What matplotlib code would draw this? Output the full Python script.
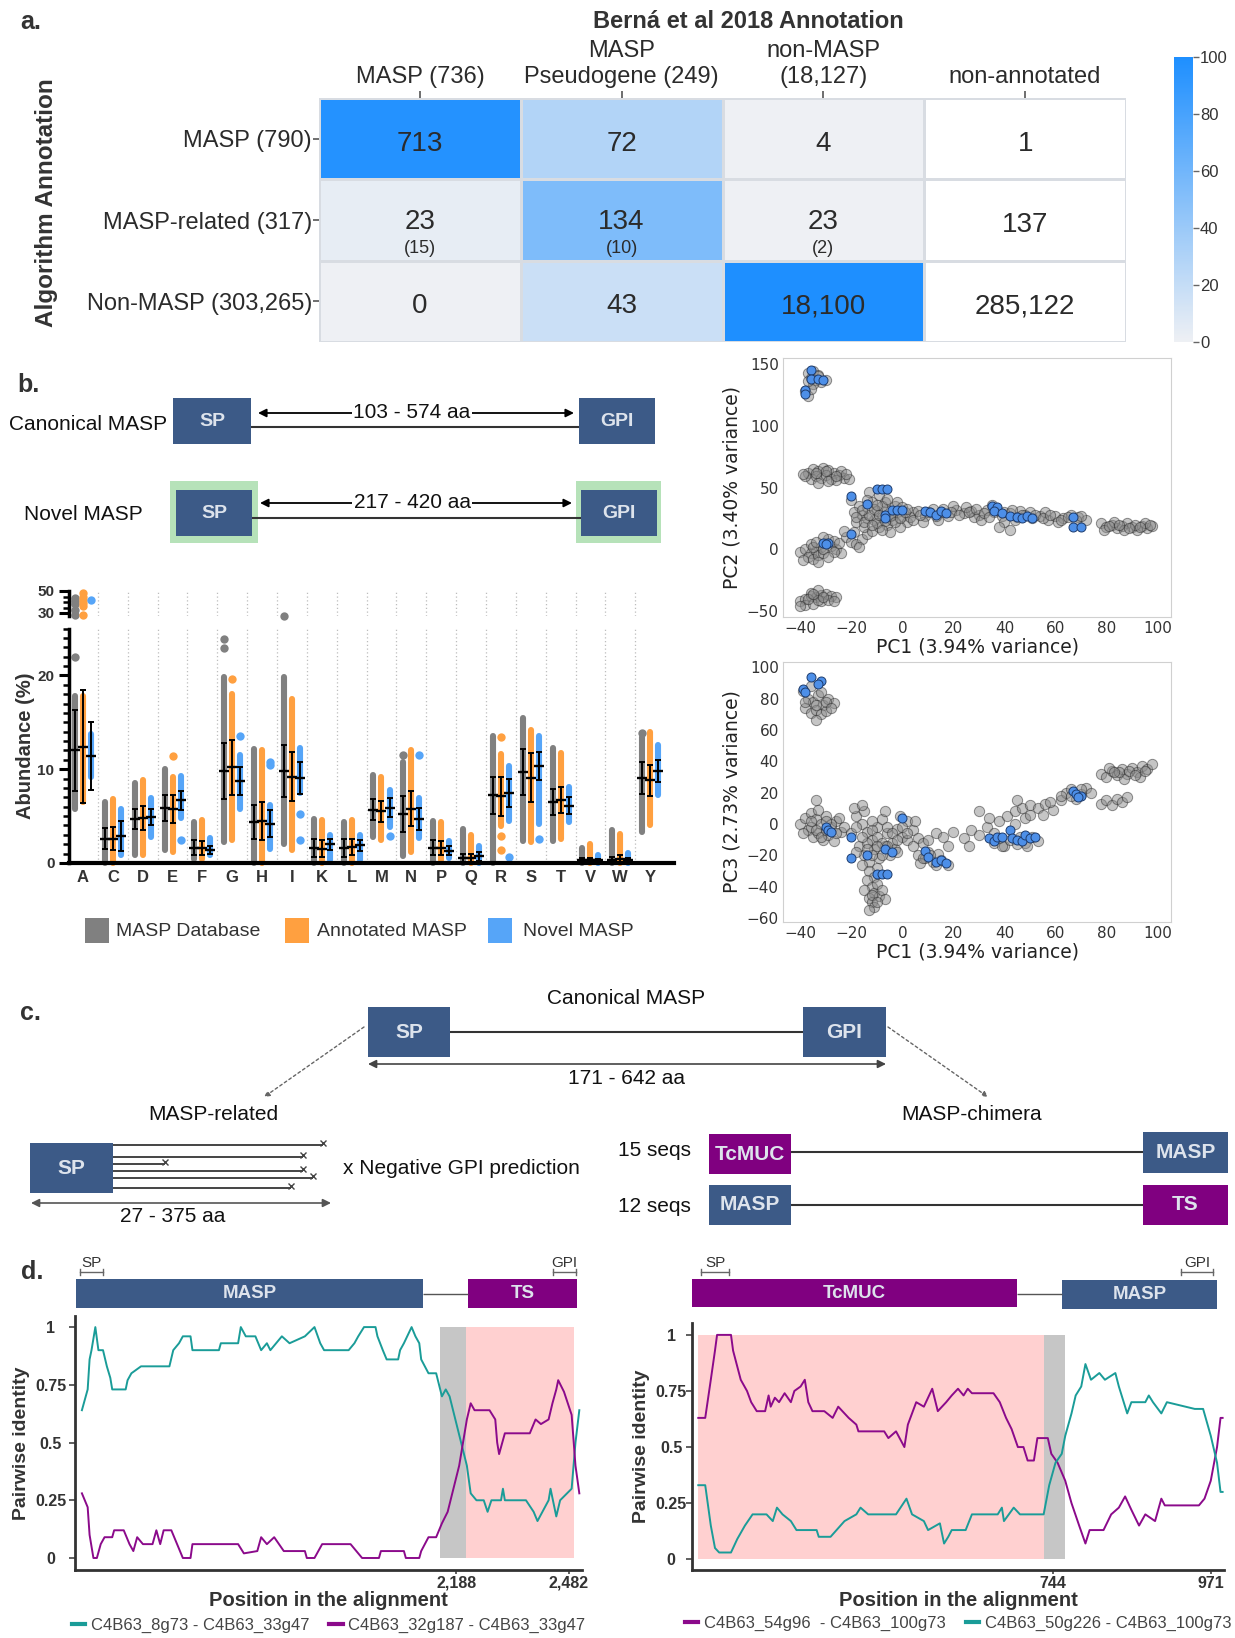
import numpy as np
import matplotlib
matplotlib.use('Agg')
import matplotlib.pyplot as plt
from matplotlib.colors import LinearSegmentedColormap
from matplotlib.patches import Rectangle
from matplotlib.lines import Line2D

plt.rcParams['font.family'] = ['Liberation Sans', 'DejaVu Sans']

# ---------------- a. annotation comparison ----------------
row_labels = ['MASP (790)', 'MASP-related (317)', 'Non-MASP (303,265)']
col_labels = ['MASP (736)', 'MASP\nPseudogene (249)', 'non-MASP\n(18,127)', 'non-annotated']
col_totals = [736, 249, 18127, 0]
counts = np.array([[713, 72, 4, 1],
                   [23, 134, 23, 137],
                   [0, 43, 18100, 285122]])
sub_counts = [[None, None, None, None],
              [15, 10, 2, None],
              [None, None, None, None]]

# ---------------- b. amino acid composition ----------------
residues = ['A', 'C', 'D', 'E', 'F', 'G', 'H', 'I', 'K', 'L',
            'M', 'N', 'P', 'Q', 'R', 'S', 'T', 'V', 'W', 'Y']

db_min = [5.8, 0, 0.8, 1.4, 0.4, 2.2, 0, 2.0, 0, 0, 2.8, 0.7, 0, 0, 0, 2.3, 2.3, 0, 0, 3.3]
db_max = [17.8, 6.5, 8.5, 10.0, 4.4, 19.8, 12.2, 19.8, 4.7, 4.4, 9.4, 10.8, 4.5, 3.6, 13.5, 15.5, 12.3, 1.6, 3.5, 13.4]
db_mean = [12.0, 2.6, 4.7, 5.9, 1.6, 9.8, 4.4, 9.8, 1.6, 1.6, 5.7, 5.2, 1.6, 0.5, 7.2, 9.7, 6.5, 0.3, 0.3, 9.1]
db_sd = [4.3, 1.1, 1.1, 1.4, 0.8, 3.0, 1.8, 2.8, 1.0, 1.0, 1.1, 1.9, 0.8, 0.5, 2.0, 2.5, 1.4, 0.2, 0.3, 1.7]
db_out_res = ['A', 'A', 'A', 'A', 'A', 'A', 'G', 'G', 'I', 'N', 'Y']
db_out_val = [22.0, 28.0, 33.0, 38.0, 41.0, 44.0, 22.9, 23.9, 27.5, 11.5, 13.9]

ann_min = [6.5, 0, 0.8, 1.2, 0.4, 2.5, 0, 1.4, 0, 0, 2.4, 1.2, 0.3, 0, 3.9, 2.2, 2.6, 0, 0, 4.0]
ann_max = [17.8, 6.8, 8.8, 9.2, 4.6, 18.0, 12.0, 17.5, 4.6, 4.6, 9.2, 12.1, 4.4, 3.0, 11.6, 14.2, 11.7, 2.0, 3.1, 14.0]
ann_mean = [12.4, 2.6, 4.8, 5.8, 1.6, 10.2, 4.5, 9.2, 1.5, 1.7, 5.5, 5.8, 1.6, 0.5, 7.1, 9.1, 6.7, 0.3, 0.4, 8.8]
ann_sd = [6.0, 1.2, 1.3, 1.5, 0.7, 2.9, 2.0, 2.6, 0.9, 0.9, 1.1, 1.9, 0.7, 0.5, 2.1, 2.6, 1.4, 0.2, 0.5, 1.7]
ann_out_res = ['A', 'A', 'A', 'A', 'A', 'A', 'E', 'G', 'R', 'R', 'R']
ann_out_val = [28.0, 36.0, 39.0, 42.0, 45.0, 48.0, 11.4, 19.6, 13.4, 2.9, 1.4]

nov_min = [9.2, 0.8, 2.8, 4.8, 0.8, 5.8, 1.5, 7.5, 0.3, 0.3, 3.8, 2.7, 0.5, 0, 4.5, 4.2, 4.4, 0, 0, 7.2]
nov_max = [13.8, 5.8, 6.9, 9.3, 2.7, 11.5, 6.2, 12.3, 3.0, 3.0, 7.8, 6.9, 2.3, 1.8, 10.3, 13.5, 8.1, 0.8, 1.1, 12.6]
nov_mean = [11.4, 2.9, 4.9, 6.7, 1.4, 8.7, 4.2, 9.1, 2.0, 1.9, 5.9, 4.7, 1.3, 0.7, 7.5, 10.3, 6.1, 0.3, 0.3, 9.8]
nov_sd = [3.6, 1.6, 0.9, 1.0, 0.4, 1.5, 1.4, 1.7, 0.6, 0.6, 1.0, 1.2, 0.5, 0.5, 1.5, 1.5, 0.9, 0.1, 0.2, 1.2]
nov_out_res = ['A', 'E', 'G', 'H', 'H', 'I', 'I', 'M', 'N', 'R', 'S']
nov_out_val = [42.0, 2.4, 13.5, 10.4, 10.8, 5.2, 2.5, 2.9, 11.5, 0.6, 2.6]

# ---------------- b. PCA ----------------
grey_pc12 = [(-37, 143), (-35, 144), (-33, 141), (-36, 139), (-34, 137), (-32, 135), (-30, 137), (-35, 134),
             (-38, 128), (-37, 124), (-36, 130), (-33, 140), (-37, 136),
             (-37, 62), (-35, 65), (-33, 63), (-31, 66), (-29, 64), (-27, 62), (-25, 60), (-23, 58), (-21, 57),
             (-36, 57), (-34, 59), (-32, 58), (-30, 60), (-28, 57), (-26, 56), (-33, 54), (-29, 55), (-24, 63), (-38, 59),
             (-39, 61), (-34, 62), (-30, 63), (-26, 59), (-22, 61),
             (-40, -2), (-38, 0), (-36, -3), (-34, -1), (-32, 2), (-30, 5), (-28, 3), (-26, 0), (-24, -3), (-37, -6),
             (-35, -8), (-33, -5), (-31, -3), (-29, 8), (-31, 10), (-27, 7), (-39, -9), (-33, -10), (-25, 5), (-36, 4),
             (-35, 2), (-31, 0), (-27, -2), (-29, -6), (-34, 6),
             (-40, -42), (-38, -40), (-36, -38), (-34, -39), (-32, -37), (-30, -36), (-28, -38), (-26, -39), (-38, -45),
             (-35, -44), (-32, -42), (-29, -41), (-36, -35), (-33, -33), (-40, -46), (-37, -40), (-33, -41), (-31, -39),
             (-27, -42), (-35, -36),
             (-22, 10), (-20, 6), (-18, 4), (-16, 8), (-14, 12), (-19, 14), (-23, 15), (-17, 2),
             (-18, 22), (-16, 28), (-14, 34), (-12, 38), (-10, 31), (-8, 26), (-6, 20), (-4, 24), (-2, 30), (0, 27),
             (2, 22), (4, 30), (-15, 18), (-12, 15), (-9, 18), (-6, 32), (-3, 35), (-11, 24), (-7, 38), (-14, 25),
             (-17, 35), (-20, 40), (-13, 46), (-9, 44), (-1, 18), (-5, 14), (3, 26), (-19, 30), (-10, 21), (-4, 28), (-8, 35),
             (-15, 22), (-13, 28), (-11, 33), (-9, 28), (-7, 23), (-5, 27), (-3, 22), (-1, 25), (1, 30), (-16, 32),
             (-12, 20), (-8, 16), (-2, 38), (0, 34), (-18, 26), (-6, 41), (-14, 40), (-10, 36), (2, 33), (4, 24),
             (6, 31), (9, 27), (12, 33), (15, 30), (18, 27), (21, 32), (24, 29), (27, 31), (30, 28), (33, 32), (36, 30),
             (39, 27), (42, 29), (45, 26), (48, 28), (51, 25), (54, 27), (57, 24), (60, 27), (63, 25), (66, 28), (69, 26),
             (72, 24), (8, 22), (14, 24), (20, 35), (28, 26), (35, 36), (40, 22), (42, 16), (38, 18), (50, 30), (56, 30),
             (61, 22), (25, 34), (31, 24), (46, 31), (7, 28), (10, 30), (13, 27), (16, 33), (19, 30), (22, 28), (26, 30),
             (29, 33), (32, 29), (34, 26), (37, 32), (40, 30), (43, 32), (44, 24), (47, 28), (52, 28), (55, 25),
             (58, 28), (62, 24), (65, 26), (68, 24), (70, 27),
             (78, 21), (80, 18), (82, 20), (84, 17), (86, 19), (88, 21), (90, 18), (92, 16), (94, 19), (96, 17), (98, 19),
             (83, 22), (87, 16), (91, 20), (95, 21), (79, 16), (85, 20), (89, 17), (93, 18), (97, 20), (81, 19)]
blue_pc12 = [(-36, 145), (-36, 138), (-33, 138), (-31, 137), (-38, 129), (-38, 126),
             (-20, 43), (-14, 37), (-10, 49), (-8, 49), (-6, 49), (-7, 28), (-7, 25), (-4, 32), (-2, 32), (0, 32),
             (9, 31), (11, 30), (13, 28), (15, 31), (17, 29), (35, 35), (37, 34), (36, 31), (39, 29), (42, 27),
             (45, 26), (47, 25), (49, 27), (51, 25), (67, 26), (67, 18), (70, 18), (-31, 5), (-29, 5), (-30, 4), (-20, 12)]

grey_pc13 = [(-39, 85), (-37, 80), (-35, 78), (-33, 82), (-31, 76), (-29, 80), (-27, 77), (-38, 74), (-36, 71),
             (-34, 73), (-32, 70), (-30, 72), (-34, 66), (-36, 88), (-38, 78), (-34, 76), (-30, 78), (-28, 74), (-32, 84),
             (-40, 0), (-38, 4), (-36, 7), (-34, 3), (-32, 0), (-30, 5), (-28, -2), (-26, 2), (-24, -5), (-37, -4),
             (-35, -8), (-33, -6), (-31, -10), (-29, -7), (-27, -11), (-39, -6), (-33, 9), (-34, 15), (-25, 4), (-23, -2),
             (-36, -2), (-34, -4), (-32, -8), (-30, -4), (-28, 0), (-26, -6), (-30, 2), (-36, 2),
             (-18, 5), (-16, 0), (-14, -5), (-12, -10), (-10, -2), (-8, 3), (-6, -6), (-4, -12), (-2, -3), (0, -8),
             (2, -10), (4, -4), (6, -9), (8, -12), (-17, -14), (-15, -20), (-13, -24), (-11, -16), (-9, -22), (-7, -14),
             (-5, -20), (-3, -16), (-15, 8), (-12, 2), (-7, 8), (-1, 5), (-20, -6), (-18, -18), (-16, -26), (-10, -28),
             (-19, 10), (-16, 12), (2, 2), (5, 2), (-14, -12), (-12, -4), (-10, -8), (-8, -12), (-6, -2), (-4, -6),
             (-2, -10), (0, -2), (-12, -20), (-10, -14), (-8, -20), (-14, -16), (-16, -8), (-18, -2), (-6, -14),
             (-2, -18), (4, -14), (2, -6), (-13, -30), (-11, -34),
             (-14, -36), (-12, -40), (-11, -44), (-13, -47), (-12, -50), (-11, -53), (-13, -55), (-9, -46), (-10, -38),
             (-8, -42), (-7, -48), (-15, -42), (-12, -45), (-10, -50),
             (6, -20), (9, -22), (12, -24), (15, -23), (18, -26), (10, -18), (14, -19), (7, -25), (8, -22), (11, -20),
             (13, -26),
             (10, -10), (13, -6), (16, -8), (20, -5), (24, -9), (27, -4), (30, -7), (33, -2), (36, -6), (38, 2), (41, 5),
             (44, 8), (47, 10), (50, 12), (53, 10), (56, 13), (59, 9), (62, 15), (34, 4), (45, 15), (40, -14), (55, 6),
             (26, -14), (18, -14), (30, 8), (48, 4), (44, 0), (50, 6), (58, 14),
             (36, -12), (39, -14), (42, -10), (45, -13), (48, -12), (51, -8), (53, -11), (46, -8), (49, -14), (38, -9),
             (64, 20), (66, 22), (70, 19), (72, 23), (74, 20), (68, 16), (62, 18), (66, 18), (70, 22),
             (78, 32), (80, 30), (82, 34), (84, 31), (86, 35), (88, 32), (90, 36), (92, 33), (94, 37), (96, 35), (98, 38),
             (81, 36), (87, 29), (93, 30), (85, 33), (89, 34), (95, 34), (91, 31), (83, 33),
             (78, 13), (80, 15), (82, 12), (84, 16), (86, 14), (88, 17)]
blue_pc13 = [(-36, 94), (-32, 91), (-33, 89), (-39, 86), (-38, 84),
             (-30, -2), (-29, -4), (-28, -5), (-20, -8), (-20, -22), (-14, -20), (-7, -16), (-4, -18),
             (-10, -32), (-8, -32), (-6, -32), (0, 4),
             (9, -17), (10, -21), (13, -24), (15, -23), (17, -25),
             (34, -9), (36, -11), (37, -8), (39, -8), (42, -4), (43, -9), (45, -10), (47, -11), (48, -7), (50, -9), (52, -8),
             (67, 21), (68, 19), (70, 18), (69, 17)]

# ---------------- d. sliding-window pairwise identity ----------------
left_pos_a = [1213, 1228, 1233, 1238, 1248, 1256, 1268, 1278, 1287, 1292, 1327, 1332, 1342, 1367, 1441, 1451,
              1466, 1476, 1496, 1501, 1570, 1575, 1620, 1627, 1640, 1665, 1680, 1695, 1704, 1734, 1754, 1794,
              1819, 1834, 1844, 1908, 1923, 1933, 1948, 1978, 1983, 1997, 2007, 2037, 2042, 2052, 2072, 2082,
              2092, 2097, 2116, 2136, 2151, 2161, 2171, 2186, 2201, 2216, 2226, 2241, 2260, 2270, 2280, 2305,
              2310, 2315, 2320, 2370, 2390, 2400, 2429, 2434, 2449, 2459, 2489, 2499, 2509]
left_id_a = [0.64, 0.73, 0.86, 0.90, 1.0, 0.90, 0.90, 0.83, 0.78, 0.73, 0.73, 0.77, 0.80, 0.83, 0.83, 0.90,
             0.93, 0.96, 0.96, 0.90, 0.90, 0.93, 0.93, 1.0, 0.96, 0.96, 0.90, 0.93, 0.90, 0.96, 0.93, 0.96,
             1.0, 0.93, 0.90, 0.90, 0.93, 0.96, 1.0, 1.0, 0.96, 0.90, 0.86, 0.86, 0.90, 0.93, 1.0, 0.96,
             0.93, 0.86, 0.80, 0.80, 0.70, 0.73, 0.70, 0.60, 0.50, 0.40, 0.28, 0.25, 0.25, 0.20, 0.25, 0.25,
             0.30, 0.25, 0.25, 0.25, 0.20, 0.16, 0.25, 0.30, 0.18, 0.25, 0.30, 0.50, 0.64]
left_pos_b = [1213, 1228, 1233, 1243, 1252, 1262, 1272, 1292, 1297, 1322, 1337, 1347, 1357, 1372, 1397, 1407,
              1417, 1426, 1446, 1461, 1476, 1496, 1501, 1620, 1635, 1670, 1680, 1695, 1714, 1739, 1794, 1799,
              1819, 1839, 1913, 1928, 1943, 1987, 1992, 2052, 2057, 2092, 2097, 2116, 2136, 2151, 2166, 2181,
              2196, 2206, 2216, 2226, 2236, 2275, 2290, 2295, 2300, 2315, 2380, 2395, 2409, 2429, 2439, 2449,
              2454, 2469, 2489, 2499, 2509]
left_id_b = [0.28, 0.22, 0.10, 0.0, 0.0, 0.06, 0.09, 0.09, 0.12, 0.12, 0.06, 0.03, 0.09, 0.06, 0.06, 0.12,
             0.06, 0.12, 0.12, 0.06, 0.0, 0.0, 0.06, 0.06, 0.02, 0.03, 0.09, 0.06, 0.09, 0.03, 0.03, 0.0,
             0.0, 0.06, 0.06, 0.03, 0.0, 0.0, 0.03, 0.03, 0.0, 0.0, 0.03, 0.09, 0.09, 0.15, 0.20, 0.30,
             0.40, 0.50, 0.60, 0.67, 0.64, 0.64, 0.60, 0.50, 0.45, 0.54, 0.54, 0.60, 0.58, 0.60, 0.67, 0.73,
             0.77, 0.72, 0.62, 0.40, 0.28]
left_names = ['C4B63_8g73 - C4B63_33g47', 'C4B63_32g187 - C4B63_33g47']
left_breakpoint = (2147, 2214, 2494)

right_pos_a = [235, 245, 253, 259, 262, 282, 285, 296, 305, 311, 319, 331, 336, 339, 345, 351, 359, 368, 373,
               382, 388, 393, 399, 416, 428, 436, 451, 462, 465, 502, 508, 519, 531, 536, 548, 559, 571, 579,
               591, 599, 608, 616, 622, 628, 659, 668, 677, 685, 694, 702, 708, 717, 722, 737, 742, 751, 762,
               771, 782, 791, 797, 817, 828, 839, 848, 857, 868, 877, 891, 900, 905, 954, 962, 971, 980, 985, 988]
right_id_a = [0.63, 0.63, 0.80, 0.93, 1.0, 1.0, 0.93, 0.80, 0.75, 0.70, 0.66, 0.66, 0.73, 0.68, 0.72, 0.70, 0.74,
              0.70, 0.75, 0.77, 0.80, 0.70, 0.66, 0.66, 0.63, 0.68, 0.63, 0.60, 0.57, 0.57, 0.54, 0.57, 0.50,
              0.60, 0.70, 0.68, 0.76, 0.66, 0.70, 0.73, 0.76, 0.73, 0.76, 0.74, 0.74, 0.70, 0.63, 0.58, 0.50,
              0.50, 0.44, 0.44, 0.54, 0.54, 0.47, 0.43, 0.35, 0.25, 0.15, 0.07, 0.13, 0.13, 0.20, 0.23, 0.28,
              0.22, 0.15, 0.20, 0.17, 0.27, 0.24, 0.24, 0.27, 0.35, 0.50, 0.63, 0.63]
right_pos_b = [235, 245, 253, 259, 265, 282, 291, 302, 313, 333, 342, 348, 356, 368, 376, 405, 408, 425, 445,
               462, 468, 479, 519, 534, 542, 559, 565, 582, 588, 594, 599, 619, 628, 665, 671, 674, 688, 697,
               731, 739, 748, 757, 762, 771, 777, 785, 791, 799, 811, 819, 834, 839, 851, 857, 877, 882, 888,
               900, 908, 948, 960, 971, 980, 985, 988]
right_id_b = [0.33, 0.33, 0.15, 0.05, 0.03, 0.03, 0.09, 0.15, 0.20, 0.20, 0.17, 0.23, 0.20, 0.17, 0.13, 0.13,
              0.10, 0.10, 0.17, 0.20, 0.23, 0.20, 0.20, 0.27, 0.20, 0.17, 0.13, 0.16, 0.07, 0.10, 0.13, 0.13,
              0.20, 0.20, 0.23, 0.17, 0.23, 0.20, 0.20, 0.33, 0.43, 0.47, 0.55, 0.65, 0.73, 0.77, 0.87, 0.80,
              0.83, 0.80, 0.83, 0.77, 0.65, 0.70, 0.70, 0.73, 0.70, 0.65, 0.70, 0.67, 0.67, 0.55, 0.43, 0.30, 0.30]
right_names = ['C4B63_54g96  - C4B63_100g73', 'C4B63_50g226 - C4B63_100g73']
right_breakpoint = (235, 731, 762)

MASP_BLUE = '#3c5a87'
PURPLE = '#800080'
TEAL = '#1a9c98'
PURP_LINE = '#8b0a8b'
GREY, ORANGE, LBLUE = '#808080', '#ffa040', '#56a5f8'

W, H = 1235, 1638
fig = plt.figure(figsize=(W / 100, H / 100), dpi=100)


def place(x0, y0, x1, y1):
    return [x0 / W, 1 - y1 / H, (x1 - x0) / W, (y1 - y0) / H]


# drawing layer for schematics and panel letters (pixel coordinates)
canvas = fig.add_axes([0, 0, 1, 1], zorder=10)
canvas.set_xlim(0, W)
canvas.set_ylim(H, 0)
canvas.axis('off')
canvas.patch.set_visible(False)


def block(x0, y0, x1, y1, label, color, size=15):
    canvas.add_patch(Rectangle((x0, y0), x1 - x0, y1 - y0, facecolor=color, edgecolor='none'))
    canvas.text((x0 + x1) / 2, (y0 + y1) / 2, label, color='#dde3ec', fontsize=size,
                fontweight='bold', ha='center', va='center')


def span(x0, x1, y, color='black', lw=1.3):
    canvas.annotate('', xy=(x1, y), xytext=(x0, y),
                    arrowprops=dict(arrowstyle='<|-|>', color=color, lw=lw, shrinkA=0, shrinkB=0,
                                    mutation_scale=12))


def link(x0, x1, y, color='#333333', lw=1.5):
    canvas.plot([x0, x1], [y, y], color=color, lw=lw, solid_capstyle='butt')


for letter, (lx, ly) in zip(['a.', 'b.', 'c.', 'd.'], [(20, 22), (17, 385), (20, 1013), (21, 1272)]):
    canvas.text(lx, ly, letter, fontsize=18, fontweight='bold', color='#333333', ha='left', va='center')

# ---------------- a. heatmap ----------------
pct = np.full(counts.shape, np.nan)
for j, tot in enumerate(col_totals):
    if tot:
        pct[:, j] = counts[:, j] / tot * 100
cmap = LinearSegmentedColormap.from_list('annot', ['#eef0f4', '#1e8fff'])
cmap.set_bad('white')

axh = fig.add_axes(place(319, 98, 1126, 342))
mesh = axh.pcolormesh(np.ma.masked_invalid(pct), cmap=cmap, vmin=0, vmax=100,
                      edgecolors='#d8dce2', linewidth=1)
axh.set_xlim(0, 4)
axh.set_ylim(3, 0)
for sp in axh.spines.values():
    sp.set_visible(False)
for i in range(3):
    for j in range(4):
        sub = sub_counts[i][j]
        main_y = i + (0.52 if sub is not None else 0.56)
        axh.text(j + 0.5, main_y, f'{counts[i, j]:,}', ha='center', va='center', fontsize=20, color='#2b2b2b')
        if sub is not None:
            axh.text(j + 0.5, i + 0.85, f'({sub})', ha='center', va='center', fontsize=13, color='#2b2b2b')
axh.xaxis.tick_top()
axh.set_xticks(np.arange(4) + 0.5)
axh.set_xticklabels(col_labels, fontsize=17, color='#2b2b2b', linespacing=1.25)
axh.set_yticks(np.arange(3) + 0.5)
axh.set_yticklabels(row_labels, fontsize=17, color='#2b2b2b')
axh.tick_params(axis='x', length=5, width=1.2, color='#555555', pad=2)
axh.tick_params(axis='y', length=4, width=1.2, color='#555555', pad=1)
canvas.text(748, 21, 'Berná et al 2018 Annotation', fontsize=17, fontweight='bold', color='#333333',
            ha='center', va='center')
canvas.text(47, 203, 'Algorithm Annotation', fontsize=17.5, fontweight='bold', color='#333333',
            rotation=90, ha='center', va='center')

axc = fig.add_axes(place(1174, 57, 1193, 342))
cb = fig.colorbar(mesh, cax=axc)
cb.outline.set_visible(False)
cb.set_ticks([0, 20, 40, 60, 80, 100])
axc.tick_params(labelsize=12, length=4, width=1, color='#666666', labelcolor='#333333', pad=1)

# ---------------- b. schematics ----------------
canvas.text(9, 425, 'Canonical MASP', fontsize=15, ha='left', va='center', color='#111111')
block(173, 398, 251, 444, 'SP', MASP_BLUE, 14)
block(579, 398, 655, 444, 'GPI', MASP_BLUE, 14)
span(258, 574, 413)
canvas.text(412, 413, '103 - 574 aa', fontsize=15, ha='center', va='center', color='#111111',
            bbox=dict(facecolor='white', edgecolor='none', pad=1))
link(251, 579, 427)

canvas.text(83, 515, 'Novel MASP', fontsize=15, ha='center', va='center', color='#111111')
for gx0, gx1 in [(170, 258), (576, 661)]:
    canvas.add_patch(Rectangle((gx0, 481), gx1 - gx0, 62, facecolor='#b6e2b9', edgecolor='none'))
block(176, 490, 252, 536, 'SP', MASP_BLUE, 14)
block(581, 490, 657, 536, 'GPI', MASP_BLUE, 14)
span(260, 572, 503)
canvas.text(412, 503, '217 - 420 aa', fontsize=15, ha='center', va='center', color='#111111',
            bbox=dict(facecolor='white', edgecolor='none', pad=1))
link(252, 581, 518)

# ---------------- b. composition strips ----------------
xs = np.arange(len(residues))
axs = fig.add_axes(place(69, 628.5, 674, 863))
axu = fig.add_axes(place(69, 591, 674, 616.3))
for ax in (axs, axu):
    ax.set_xlim(-0.47, 19.8)
    ax.patch.set_visible(False)
    for sp in ('top', 'right'):
        ax.spines[sp].set_visible(False)
    ax.spines['left'].set_linewidth(2.5)
    for k in range(len(residues) - 1):
        ax.axvline(k + 0.5, color='#bdbdbd', lw=0.9, ls=(0, (1, 2)), zorder=0)
axs.set_ylim(0, 25)
axu.set_ylim(27, 50)
axu.spines['bottom'].set_visible(False)
axs.spines['bottom'].set_linewidth(3)

groups = [(db_min, db_max, db_mean, db_sd, db_out_res, db_out_val, GREY, -0.27),
          (ann_min, ann_max, ann_mean, ann_sd, ann_out_res, ann_out_val, ORANGE, 0.0),
          (nov_min, nov_max, nov_mean, nov_sd, nov_out_res, nov_out_val, LBLUE, 0.27)]
for gmin, gmax, gmean, gsd, ores, oval, col, off in groups:
    for k in range(len(residues)):
        axs.plot([k + off, k + off], [gmin[k], gmax[k]], color=col, lw=4.4,
                 solid_capstyle='round', zorder=2, clip_on=False)
    for r, v in zip(ores, oval):
        target = axu if v > 26 else axs
        target.plot(residues.index(r) + off, v, 'o', color=col, ms=6, mec='none', zorder=2, clip_on=False)
    axs.errorbar(xs + off, gmean, yerr=gsd, fmt='none', ecolor='black', elinewidth=1.4,
                 capsize=2, capthick=1.4, zorder=4)
    axs.scatter(xs + off, gmean, marker='_', s=50, color='black', linewidths=1.7, zorder=5)

axs.set_yticks([0, 10, 20])
axs.set_yticks(np.arange(0, 26, 1), minor=True)
axs.set_yticklabels(['0', '10', '20'], fontweight='bold', fontsize=11, color='#333333')
axs.tick_params(axis='y', which='major', length=7, width=2.2)
axs.tick_params(axis='y', which='minor', length=4, width=1.8)
axs.set_xticks(xs)
axs.set_xticklabels(residues, fontweight='bold', fontsize=12, color='#333333')
axs.tick_params(axis='x', length=0, pad=5)
axs.set_ylabel('Abundance (%)', fontweight='bold', fontsize=14.5, color='#333333', labelpad=2)
axu.set_yticks([30, 50])
axu.set_yticks([35, 40, 45], minor=True)
axu.set_yticklabels(['30', '50'], fontweight='bold', fontsize=11, color='#333333')
axu.tick_params(axis='y', which='major', length=7, width=2.2)
axu.tick_params(axis='y', which='minor', length=4, width=1.8)
axu.set_xticks([])

for (x0, label, col, tx) in [(85, 'MASP Database', GREY, 116), (285, 'Annotated MASP', ORANGE, 317),
                            (488, 'Novel MASP', LBLUE, 523)]:
    canvas.add_patch(Rectangle((x0, 918), 24, 25, facecolor=col, edgecolor='none'))
    canvas.text(tx, 931, label, fontsize=14, ha='left', va='center', color='#333333')

# ---------------- b. PCA ----------------
pca_panels = [(place(783, 358, 1171, 617), grey_pc12, blue_pc12, (-54.8, 154.8), [-50, 0, 50, 100, 150],
               'PC2 (3.40% variance)'),
              (place(783, 662, 1171, 922), grey_pc13, blue_pc13, (-62.5, 103.3), [-60, -40, -20, 0, 20, 40, 60, 80, 100],
               'PC3 (2.73% variance)')]
for rect, grey_pts, blue_pts, ylim, yticks, ylabel in pca_panels:
    axp = fig.add_axes(rect)
    g = np.array(grey_pts).T
    b = np.array(blue_pts).T
    axp.scatter(g[0], g[1], s=55, c='#8c8c8c', alpha=0.5, edgecolors='#262626', linewidths=0.7)
    axp.scatter(b[0], b[1], s=42, c='#4d8fe8', edgecolors='#1d3c6e', linewidths=0.7)
    axp.set_xlim(-46.8, 105.3)
    axp.set_ylim(*ylim)
    axp.set_xticks([-40, -20, 0, 20, 40, 60, 80, 100])
    axp.set_yticks(yticks)
    for lbl in axp.get_xticklabels() + axp.get_yticklabels():
        lbl.set_fontfamily('DejaVu Sans')
    axp.tick_params(length=0, labelsize=11, labelcolor='#333333', pad=3)
    for sp in axp.spines.values():
        sp.set_color('#d0d0d0')
    axp.set_xlabel('PC1 (3.94% variance)', fontsize=13.5, family='DejaVu Sans', color='#222222', labelpad=1)
    axp.set_ylabel(ylabel, fontsize=13.5, family='DejaVu Sans', color='#222222', labelpad=4)

# ---------------- c. schematics ----------------
canvas.text(626, 998, 'Canonical MASP', fontsize=15, ha='center', va='center', color='#111111')
block(368, 1007, 450, 1057, 'SP', MASP_BLUE)
block(803, 1007, 886, 1057, 'GPI', MASP_BLUE)
link(450, 803, 1032)
span(368, 886, 1064, color='#444444', lw=1.2)
canvas.text(626, 1078, '171 - 642 aa', fontsize=15, ha='center', va='center', color='#111111')
for (sx, sy), (ex, ey) in [((364, 1027), (264, 1097)), ((888, 1027), (988, 1097))]:
    canvas.annotate('', xy=(ex, ey), xytext=(sx, sy),
                    arrowprops=dict(arrowstyle='-|>', color='#666666', lw=1, ls=(0, (2, 2)),
                                    shrinkA=0, shrinkB=0, mutation_scale=8))
canvas.text(213, 1115, 'MASP-related', fontsize=15, ha='center', va='center', color='#111111')
canvas.text(972, 1115, 'MASP-chimera', fontsize=15, ha='center', va='center', color='#111111')

block(30, 1143, 113, 1193, 'SP', MASP_BLUE)
for ly, lx in [(1145, 323), (1157, 303), (1164, 165), (1171, 303), (1178, 313), (1188, 291)]:
    link(113, lx, ly, color='#444444', lw=1.4)
    canvas.plot(lx, ly - 2, marker='x', ms=5, mew=1, color='#444444')
canvas.text(343, 1168, 'x Negative GPI prediction', fontsize=15, ha='left', va='center', color='#111111')
span(31, 331, 1203, color='#555555', lw=1.2)
canvas.text(173, 1217, '27 - 375 aa', fontsize=15, ha='center', va='center', color='#111111')

canvas.text(691, 1150, '15 seqs', fontsize=15, ha='right', va='center', color='#111111')
block(709, 1134, 791, 1174, 'TcMUC', PURPLE)
block(1143, 1132, 1228, 1173, 'MASP', MASP_BLUE)
link(791, 1143, 1152)
canvas.text(691, 1206, '12 seqs', fontsize=15, ha='right', va='center', color='#111111')
block(709, 1185, 791, 1225, 'MASP', MASP_BLUE)
block(1143, 1185, 1228, 1225, 'TS', PURPLE)
link(791, 1143, 1205)

# ---------------- d. identity profiles ----------------


def bracket(x0, x1, y, label):
    canvas.plot([x0, x1], [y, y], color='#666666', lw=1)
    canvas.plot([x0, x0], [y - 3, y + 3], color='#666666', lw=1)
    canvas.plot([x1, x1], [y - 3, y + 3], color='#666666', lw=1)
    canvas.text((x0 + x1) / 2, y - 2, label, fontsize=11, ha='center', va='bottom', color='#333333')


bracket(80, 103, 1272, 'SP')
bracket(553, 576, 1272, 'GPI')
block(76, 1279, 423, 1308, 'MASP', MASP_BLUE, 13.5)
link(423, 468, 1294, color='#555555', lw=1)
block(468, 1279, 577, 1308, 'TS', PURPLE, 13.5)

bracket(701, 729, 1272, 'SP')
bracket(1181, 1213, 1272, 'GPI')
block(692, 1279, 1017, 1307, 'TcMUC', PURPLE, 13.5)
link(1017, 1062, 1294, color='#555555', lw=1)
block(1062, 1280, 1217, 1309, 'MASP', MASP_BLUE, 13.5)

d_panels = [(place(75, 1316, 582, 1570), (1195, 2516), (-0.052, 1.048), left_breakpoint,
             [(left_pos_a, left_id_a, TEAL), (left_pos_b, left_id_b, PURP_LINE)], left_names, [2188, 2482],
             'grey_first', 13),
            (place(692, 1323, 1224, 1570), (226, 990), (-0.048, 1.053), right_breakpoint,
             [(right_pos_a, right_id_a, PURP_LINE), (right_pos_b, right_id_b, TEAL)], right_names, [744, 971],
             'pink_first', 10.5)]
for rect, xlim, ylim, bp, curves, names, xt, order, ypad in d_panels:
    axd = fig.add_axes(rect)
    first, second = ('#c6c6c6', '#ffd0d0') if order == 'grey_first' else ('#ffd0d0', '#c6c6c6')
    axd.fill_between([bp[0], bp[1]], 0, 1, color=first, lw=0)
    axd.fill_between([bp[1], bp[2]], 0, 1, color=second, lw=0)
    handles = []
    for (pos, ident, col), name in zip(curves, names):
        axd.plot(pos, ident, color=col, lw=1.4, clip_on=False)
        handles.append(Line2D([], [], color=col, lw=3, label=name))
    axd.set_xlim(*xlim)
    axd.set_ylim(*ylim)
    for sp in ('top', 'right'):
        axd.spines[sp].set_visible(False)
    for sp in ('left', 'bottom'):
        axd.spines[sp].set_linewidth(2)
        axd.spines[sp].set_color('#333333')
    axd.set_yticks([0, 0.25, 0.5, 0.75, 1])
    axd.set_yticklabels(['0', '0.25', '0.5', '0.75', '1'], fontweight='bold', fontsize=11.5,
                        color='#333333', ha='center')
    axd.tick_params(axis='y', length=4.5, width=1.2, color='#444444', pad=ypad)
    axd.set_xticks(xt)
    axd.set_xticklabels([f'{v:,}' for v in xt], fontweight='bold', fontsize=11.5, color='#333333')
    axd.tick_params(axis='x', length=3, width=1.2, color='#444444', pad=1)
    axd.set_xlabel('Position in the alignment', fontweight='bold', fontsize=14.5, color='#333333', labelpad=0)
    axd.set_ylabel('Pairwise identity', fontweight='bold', fontsize=14, color='#333333', labelpad=4)
    axd.legend(handles=handles, loc='center', bbox_to_anchor=(0.5, -0.217), ncol=2, frameon=False,
               fontsize=12, handlelength=0.8, handletextpad=0.35, columnspacing=1.2, labelcolor='#444444')

fig.savefig('out.png', dpi=100)
